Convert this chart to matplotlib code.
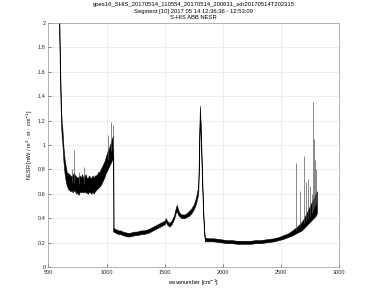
import matplotlib
matplotlib.use('Agg')
import matplotlib.pyplot as plt

plt.rcParams['font.family'] = ['Liberation Sans', 'DejaVu Sans']

# NESR band envelopes: wavenumber, lower edge, upper edge
band1_x = [592, 596, 600, 605, 610, 615, 620, 625, 630, 640, 650, 660, 670, 680, 690,
           700, 710, 720, 730, 740, 750, 760, 770, 780, 790, 800, 810, 820, 830, 840,
           850, 860, 870, 880, 890, 900, 910, 920, 930, 940, 950, 960, 970, 980, 990,
           1000, 1010, 1020, 1030, 1040, 1050, 1058, 1060]
band1_lo = [1.95, 1.75, 1.52, 1.32, 1.15, 1.06, 1.02, 0.94, 0.86, 0.76, 0.70, 0.66, 0.64, 0.63, 0.62,
            0.63, 0.61, 0.63, 0.62, 0.60, 0.61, 0.59, 0.62, 0.61, 0.62, 0.61, 0.62, 0.61, 0.61, 0.60,
            0.62, 0.61, 0.60, 0.62, 0.60, 0.62, 0.63, 0.64, 0.65, 0.66, 0.67, 0.69, 0.71, 0.73, 0.76,
            0.78, 0.80, 0.82, 0.84, 0.86, 0.88, 0.90, 0.29]
band1_hi = [2.10, 1.95, 1.68, 1.48, 1.28, 1.18, 1.14, 1.06, 0.98, 0.88, 0.82, 0.77, 0.77, 0.76, 0.75,
            0.74, 0.76, 0.77, 0.75, 0.74, 0.73, 0.74, 0.75, 0.73, 0.76, 0.73, 0.74, 0.76, 0.73, 0.73,
            0.75, 0.73, 0.73, 0.75, 0.73, 0.75, 0.75, 0.76, 0.78, 0.78, 0.80, 0.82, 0.84, 0.86, 0.89,
            0.92, 0.95, 0.97, 1.00, 1.03, 1.06, 1.08, 0.32]

band2_x = [1060, 1080, 1100, 1120, 1140, 1160, 1180, 1200, 1220, 1240, 1260, 1280, 1300, 1320,
           1340, 1360, 1380, 1400, 1420, 1440, 1460, 1480, 1500, 1510, 1520, 1540, 1560, 1580,
           1595, 1605, 1615, 1630, 1650, 1670, 1690, 1710, 1730, 1750, 1770, 1785, 1790, 1798,
           1803, 1810, 1820, 1830, 1840, 1848]
band2_lo = [0.29, 0.28, 0.27, 0.27, 0.26, 0.255, 0.25, 0.25, 0.255, 0.26, 0.26, 0.265, 0.27, 0.27,
            0.275, 0.28, 0.29, 0.30, 0.31, 0.32, 0.33, 0.34, 0.35, 0.37, 0.35, 0.33, 0.35, 0.39,
            0.44, 0.46, 0.43, 0.41, 0.40, 0.40, 0.41, 0.42, 0.44, 0.47, 0.52, 0.58, 0.62, 0.95,
            1.22, 1.05, 0.75, 0.45, 0.26, 0.21]
band2_hi = [0.32, 0.31, 0.30, 0.30, 0.29, 0.285, 0.28, 0.28, 0.285, 0.29, 0.29, 0.295, 0.30, 0.30,
            0.305, 0.31, 0.32, 0.33, 0.34, 0.35, 0.36, 0.37, 0.38, 0.40, 0.38, 0.36, 0.38, 0.42,
            0.48, 0.51, 0.47, 0.44, 0.43, 0.43, 0.44, 0.46, 0.48, 0.51, 0.57, 0.64, 0.70, 1.10,
            1.32, 1.18, 0.85, 0.52, 0.30, 0.24]

band3_x = [1848, 1880, 1920, 1960, 2000, 2040, 2080, 2120, 2160, 2200, 2240, 2280, 2320, 2360,
           2400, 2440, 2480, 2520, 2560, 2600, 2640, 2680, 2700, 2720, 2740, 2760, 2780, 2800, 2810]
band3_lo = [0.21, 0.21, 0.21, 0.205, 0.20, 0.195, 0.195, 0.19, 0.19, 0.19, 0.19, 0.195, 0.195, 0.20,
            0.205, 0.21, 0.22, 0.23, 0.245, 0.26, 0.28, 0.30, 0.32, 0.34, 0.36, 0.38, 0.40, 0.42, 0.44]
band3_hi = [0.24, 0.235, 0.235, 0.23, 0.225, 0.22, 0.22, 0.215, 0.215, 0.215, 0.215, 0.22, 0.22, 0.225,
            0.23, 0.235, 0.245, 0.26, 0.275, 0.30, 0.33, 0.37, 0.40, 0.44, 0.48, 0.52, 0.56, 0.60, 0.62]

# isolated spikes: wavenumber, base, peak
spike_x = [700, 722, 760, 806, 1010, 1042, 1055, 2630, 2665, 2700, 2715, 2735, 2750, 2765, 2778, 2785, 2795, 2802]
spike_lo = [0.70, 0.70, 0.68, 0.68, 0.88, 0.95, 0.97, 0.30, 0.33, 0.36, 0.38, 0.40, 0.42, 0.44, 0.46, 0.48, 0.50, 0.52]
spike_hi = [0.80, 0.96, 0.78, 0.82, 1.08, 1.19, 1.16, 0.85, 0.62, 0.91, 0.70, 0.72, 0.66, 0.60, 1.35, 1.05, 0.88, 0.80]

fig = plt.figure(figsize=(3.75, 3.01), dpi=100)
ax = fig.add_axes([0.129, 0.113, 0.775, 0.811])

for bx, blo, bhi in [(band1_x, band1_lo, band1_hi), (band2_x, band2_lo, band2_hi), (band3_x, band3_lo, band3_hi)]:
    ax.fill_between(bx, blo, bhi, color='black', linewidth=0.4)

ax.vlines(spike_x, spike_lo, spike_hi, color='0.35', linewidth=0.5)

ax.set_xlim(500, 3000)
ax.set_ylim(0, 2)
ax.set_xticks([500, 1000, 1500, 2000, 2500, 3000])
ax.set_yticks([0, 0.2, 0.4, 0.6, 0.8, 1, 1.2, 1.4, 1.6, 1.8, 2])
ax.set_yticklabels(['0', '0.2', '0.4', '0.6', '0.8', '1', '1.2', '1.4', '1.6', '1.8', '2'])
ax.grid(True, color='0.9', linewidth=0.5)
ax.set_axisbelow(True)
ax.tick_params(direction='in', length=2, width=0.4, labelsize=4, colors='0.15', pad=2)
for s in ax.spines.values():
    s.set_color('0.6')
    s.set_linewidth(0.5)

ax.set_xlabel('wavenumber [cm$^{-1}$]', fontsize=4, labelpad=2)
ax.set_ylabel('NESR [mW / m$^2$ \u00b7 sr \u00b7 cm$^{-1}$]', fontsize=4, labelpad=2)
ax.set_title('goes16_SHIS_20170514_110554_20170514_200631_sdr20170514T202315\n'
             'Segment [10] 2017 05 14 12:36:36 - 12:53:09\n'
             'S-HIS ABB NESR', fontsize=4.2, linespacing=1.3, pad=3)

fig.savefig('out.png', dpi=100)
